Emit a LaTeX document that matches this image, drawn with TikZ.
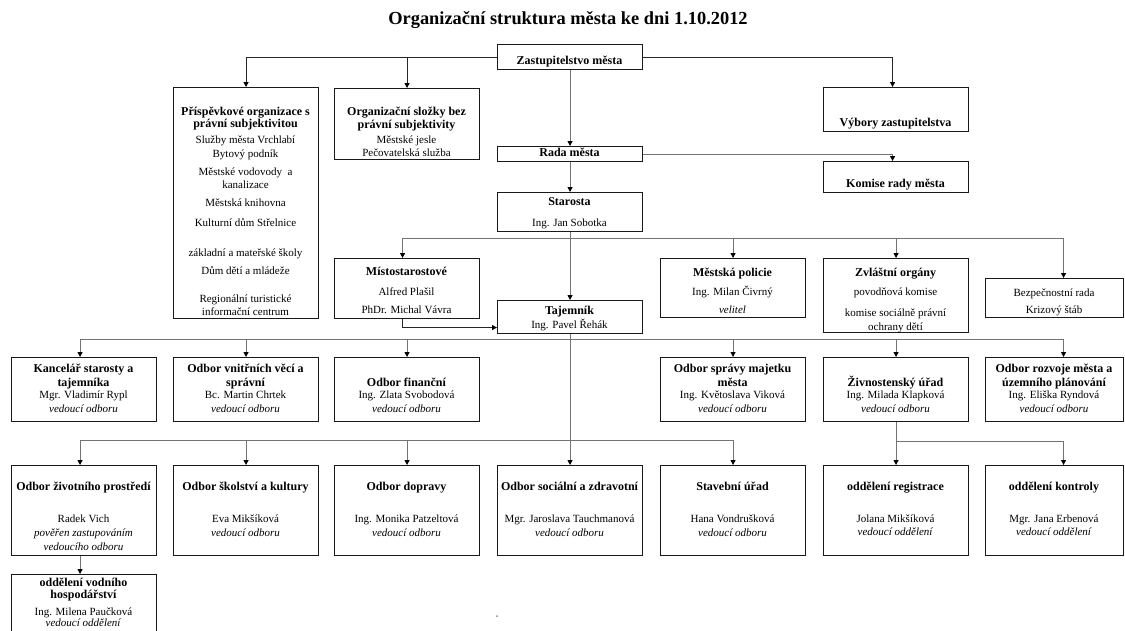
\documentclass[tikz,border=0pt]{standalone}
\usepackage{fontspec}
\setmainfont{Liberation Serif}
\usetikzlibrary{arrows.meta}
\newcommand\hd[1]{{\fontsize{12}{13}\selectfont\bfseries #1}}
\newcommand\rs{\rule{0pt}{10.5pt}}
\begin{document}
\begin{tikzpicture}[x=1pt,y=-1pt,
  box/.style={draw=black!90, line width=1.1pt, inner sep=0pt, anchor=north west},
  txt/.style={anchor=north, align=center, inner sep=0pt, font=\fontsize{11}{13}\selectfont},
  ln/.style={draw=black!55, line width=0.9pt},
  dk/.style={draw=black!85, line width=0.9pt},
  tip/.style={-{Triangle[width=5pt,length=5pt,color=black]}},
  conn/.style={ln, tip},
  dconn/.style={dk, tip}]
\useasboundingbox (0,0) rectangle (1125,630);
\fill[white] (0,0) rectangle (1125,630);
\clip (0,0) rectangle (1125,630);

% title
\node[inner sep=0pt] (title) at (568,20) {\fontsize{18.4}{22}\selectfont\bfseries Organizační struktura města ke dni 1.10.2012};

% boxes
\node[box, minimum width=145pt, minimum height=25pt] (zast) at (497,44) {};
\node[box, minimum width=145pt, minimum height=231pt] (prisp) at (173,87) {};
\node[box, minimum width=145pt, minimum height=71pt] (org) at (334,88) {};
\node[box, minimum width=145pt, minimum height=44pt] (vyb) at (823,87) {};
\node[box, minimum width=145pt, minimum height=15pt] (rada) at (497,146) {};
\node[box, minimum width=145pt, minimum height=31pt] (kom) at (823,161) {};
\node[box, minimum width=145pt, minimum height=39pt] (star) at (497,192) {};
\node[box, minimum width=145pt, minimum height=60pt] (mist) at (334,258) {};
\node[box, minimum width=145pt, minimum height=33pt] (taj) at (497,300) {};
\node[box, minimum width=145pt, minimum height=59pt] (pol) at (660,258) {};
\node[box, minimum width=145pt, minimum height=74pt] (zvl) at (823,258) {};
\node[box, minimum width=138pt, minimum height=39pt] (bezp) at (985,278) {};
% row 2
\node[box, minimum width=145pt, minimum height=64pt] (kanc) at (11,357) {};
\node[box, minimum width=145pt, minimum height=64pt] (vnitr) at (173,357) {};
\node[box, minimum width=145pt, minimum height=64pt] (fin) at (334,357) {};
\node[box, minimum width=145pt, minimum height=64pt] (sprava) at (660,357) {};
\node[box, minimum width=145pt, minimum height=64pt] (zivn) at (823,357) {};
\node[box, minimum width=138pt, minimum height=64pt] (rozv) at (985,357) {};
% row 3
\node[box, minimum width=145pt, minimum height=90pt] (ziv) at (11,465) {};
\node[box, minimum width=145pt, minimum height=90pt] (skol) at (173,465) {};
\node[box, minimum width=145pt, minimum height=90pt] (dopr) at (334,465) {};
\node[box, minimum width=145pt, minimum height=90pt] (soc) at (497,465) {};
\node[box, minimum width=145pt, minimum height=90pt] (stav) at (660,465) {};
\node[box, minimum width=145pt, minimum height=90pt] (reg) at (823,465) {};
\node[box, minimum width=138pt, minimum height=90pt] (kontr) at (985,465) {};
\node[box, minimum width=145pt, minimum height=75pt] (vod) at (11,574) {};

% texts
\node[txt] (zast-t) at (569.5,54) {\rs\hd{Zastupitelstvo města}};
\node[txt] (prisp-t) at (245.5,105) {\rs\hd{Příspěvkové organizace s}\\[-1pt]\hd{právní subjektivitou}\\[3pt]Služby města Vrchlabí\\[1pt]Bytový podník\\[5pt]Městské vodovody~ a\\kanalizace\\[5pt]Městská knihovna\\[7pt]Kulturní dům Střelnice\\[17pt]základní a mateřské školy\\[5pt]Dům dětí a mládeže\\[15pt]Regionální turistické\\informační centrum};
\node[txt] (org-t) at (406.5,105) {\rs\hd{Organizační složky bez}\\\hd{právní subjektivity}\\[2pt]Městské jesle\\Pečovatelská služba};
\node[txt] (vyb-t) at (895.5,116) {\rs\hd{Výbory zastupitelstva}};
\node[txt] (rada-t) at (569.5,146) {\rs\hd{Rada města}};
\node[txt] (kom-t) at (895.5,177) {\rs\hd{Komise rady města}};
\node[txt] (star-t) at (569.5,195) {\rs\hd{Starosta}\\[8pt]Ing. Jan Sobotka};
\node[txt] (mist-t) at (406.5,265) {\rs\hd{Místostarostové}\\[7pt]Alfred Plašil\\[5pt]PhDr. Michal Vávra};
\node[txt] (taj-t) at (569.5,304) {\rs\hd{Tajemník}\\[1pt]Ing. Pavel Řehák};
\node[txt] (pol-t) at (732.5,266) {\rs\hd{Městská policie}\\[6pt]Ing. Milan Čivrný\\[5pt]\textit{velitel}};
\node[txt] (zvl-t) at (895.5,266) {\rs\hd{Zvláštní orgány}\\[6pt]povodňová komise\\[8pt]komise sociálně právní\\[1pt]ochrany dětí};
\node[txt] (bezp-t) at (1054,286) {\rs Bezpečnostní rada\\[4pt]Krizový štáb};

\node[txt] (kanc-t) at (83.5,362) {\rs\hd{Kancelář starosty a}\\[1pt]\hd{tajemníka}\\[-1pt]Mgr. Vladimír Rypl\\[1pt]\textit{vedoucí odboru}};
\node[txt] (vnitr-t) at (245.5,362) {\rs\hd{Odbor vnitřních věcí a}\\[1pt]\hd{správní}\\[-1pt]Bc. Martin Chrtek\\[1pt]\textit{vedoucí odboru}};
\node[txt] (fin-t) at (406.5,376) {\rs\hd{Odbor finanční}\\[-1pt]Ing. Zlata Svobodová\\[1pt]\textit{vedoucí odboru}};
\node[txt] (sprava-t) at (732.5,362) {\rs\hd{Odbor správy majetku}\\[1pt]\hd{města}\\[-1pt]Ing. Květoslava Viková\\[1pt]\textit{vedoucí odboru}};
\node[txt] (zivn-t) at (895.5,376) {\rs\hd{Živnostenský úřad}\\[-1pt]Ing. Milada Klapková\\[1pt]\textit{vedoucí odboru}};
\node[txt] (rozv-t) at (1054,362) {\rs\hd{Odbor rozvoje města a}\\[1pt]\hd{územního plánování}\\[-1pt]Ing. Eliška Ryndová\\[1pt]\textit{vedoucí odboru}};

\node[txt] (ziv-t) at (83.5,480) {\rs\hd{Odbor životního prostředí}\\[19pt]Radek Vich\\[1pt]\textit{pověřen zastupováním}\\[1pt]\textit{vedoucího odboru}};
\node[txt] (skol-t) at (245.5,480) {\rs\hd{Odbor školství a kultury}\\[19pt]Eva Mikšíková\\[1pt]\textit{vedoucí odboru}};
\node[txt] (dopr-t) at (406.5,480) {\rs\hd{Odbor dopravy}\\[19pt]Ing. Monika Patzeltová\\[1pt]\textit{vedoucí odboru}};
\node[txt] (soc-t) at (569.5,480) {\rs\hd{Odbor sociální a zdravotní}\\[19pt]Mgr. Jaroslava Tauchmanová\\[1pt]\textit{vedoucí odboru}};
\node[txt] (stav-t) at (732.5,480) {\rs\hd{Stavební úřad}\\[19pt]Hana Vondrušková\\[1pt]\textit{vedoucí odboru}};
\node[txt] (reg-t) at (895.5,480) {\rs\hd{oddělení registrace}\\[19pt]Jolana Mikšíková\\\textit{vedoucí oddělení}};
\node[txt] (kontr-t) at (1054,480) {\rs\hd{oddělení kontroly}\\[19pt]Mgr. Jana Erbenová\\\textit{vedoucí oddělení}};
\node[txt] (vod-t) at (83.5,576) {\rs\hd{oddělení vodního}\\[-1pt]\hd{hospodářství}\\[4pt]Ing. Milena Paučková\\[-2pt]\textit{vedoucí oddělení}};

% connector rails
\coordinate (r1) at (0,238);
\coordinate (r2) at (0,339);
\coordinate (r3) at (0,440);
\coordinate (r4) at (0,441);

% top level
\draw[dconn] (zast.west) -| (prisp.north);
\draw[dconn] (zast.west -| org.north) -- (org.north);
\draw[dconn] (zast.east) -| ([xshift=-3.5pt]vyb.north);
\draw[conn] (zast.south) -- (rada.north);
\draw[conn] (rada.east) -| ([xshift=-3.5pt]kom.north);
\draw[conn] (rada.south) -- (star.north);
\draw[conn] (star.south) -- (taj.north);

% starosta rail
\draw[ln] ([xshift=-4.5pt]mist.north |- r1) -- ([xshift=9pt]bezp.north |- r1);
\draw[conn] ([xshift=-4.5pt]mist.north |- r1) -- ([xshift=-4.5pt]mist.north);
\draw[conn] (pol.north |- r1) -- (pol.north);
\draw[conn] (zvl.north |- r1) -- (zvl.north);
\draw[conn] ([xshift=9pt]bezp.north |- r1) -- ([xshift=9pt]bezp.north);
\draw[dconn] ([xshift=-4.5pt]mist.south) |- ([yshift=-10.5pt]taj.west);

% tajemnik rails
\draw[conn] (taj.south) -- (soc.north);
\draw[ln] ([xshift=-4pt]kanc.north |- r2) -- ([xshift=9pt]rozv.north |- r2);
\draw[conn] ([xshift=-4pt]kanc.north |- r2) -- ([xshift=-4pt]kanc.north);
\draw[conn] (vnitr.north |- r2) -- (vnitr.north);
\draw[conn] (fin.north |- r2) -- (fin.north);
\draw[conn] (sprava.north |- r2) -- (sprava.north);
\draw[conn] (zivn.north |- r2) -- (zivn.north);
\draw[conn] ([xshift=9pt]rozv.north |- r2) -- ([xshift=9pt]rozv.north);

\draw[ln] ([xshift=-4pt]ziv.north |- r3) -- (stav.north |- r3);
\draw[conn] ([xshift=-4pt]ziv.north |- r3) -- ([xshift=-4pt]ziv.north);
\draw[conn] (skol.north |- r3) -- (skol.north);
\draw[conn] (dopr.north |- r3) -- (dopr.north);
\draw[conn] (stav.north |- r3) -- (stav.north);

% zivnostensky urad
\draw[ln] (zivn.south) -- (zivn.south |- r4) -- ([xshift=9pt]kontr.north |- r4);
\draw[conn] (reg.north |- r4) -- (reg.north);
\draw[conn] ([xshift=9pt]kontr.north |- r4) -- ([xshift=9pt]kontr.north);

% odbor zivotniho prostredi
\draw[conn] ([xshift=-4pt]ziv.south) -- ([xshift=-4pt]vod.north);

\fill[black!45] (497,616) circle (1pt);
\end{tikzpicture}
\end{document}
